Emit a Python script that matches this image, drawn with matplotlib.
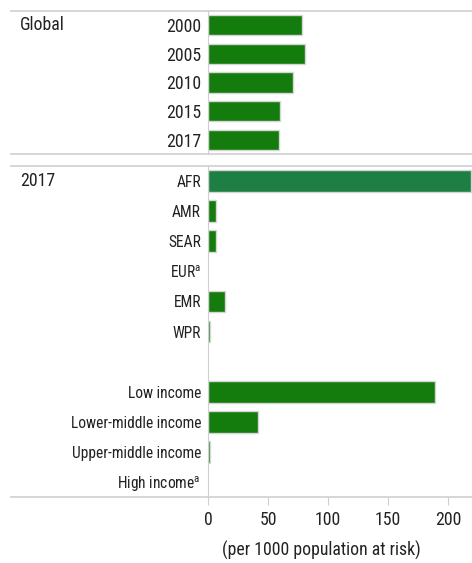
import numpy as np
import matplotlib
matplotlib.use('Agg')
import matplotlib.pyplot as plt
from matplotlib.lines import Line2D

plt.rcParams['font.family'] = ['Roboto Condensed', 'DejaVu Sans']
plt.rcParams['mathtext.fontset'] = 'custom'
plt.rcParams['mathtext.rm'] = 'Roboto Condensed'
plt.rcParams['mathtext.it'] = 'Roboto Condensed'

# Global malaria incidence (per 1000 population at risk)
global_years = ['2000', '2005', '2010', '2015', '2017']
global_incidence = [78, 81, 71, 60, 59]

# 2017 by WHO region
region_labels = ['AFR', 'AMR', 'SEAR', 'EUR$^{\\mathrm{a}}$', 'EMR', 'WPR']
region_incidence = [219, 7, 7, 0, 14, 1.5]

# 2017 by World Bank income group
income_labels = ['Low income', 'Lower-middle income', 'Upper-middle income', 'High income$^{\\mathrm{a}}$']
income_incidence = [189, 42, 1.5, 0]

x_ticks = [0, 50, 100, 150, 200]

green = '#137c0c'
afr_green = '#1e7f45'
edge = '#d6d6d6'
line_grey = '#cfcfcf'
text_col = '#222222'
big = 12.8
small = 11.2

W, H = 472, 563
fig = plt.figure(figsize=(W / 100, H / 100), dpi=100)


def px_axes(left, top, right, bottom):
    return fig.add_axes([left / W, 1 - bottom / H, (right - left) / W, (bottom - top) / H])


def style(ax):
    for s in ['top', 'right', 'bottom']:
        ax.spines[s].set_visible(False)
    ax.spines['left'].set_color(line_grey)
    ax.tick_params(axis='y', length=0, pad=5)
    ax.set_xlim(0, 220)


# top section: global trend
ax1 = px_axes(208, 11, 472, 154)
pos1 = np.arange(len(global_years))
ax1.barh(pos1, global_incidence, height=0.7, color=green, edgecolor=edge, linewidth=1)
ax1.set_yticks(pos1)
ax1.set_yticklabels(global_years, fontsize=big, color=text_col)
ax1.set_ylim(len(global_years) - 0.5, -0.5)
style(ax1)
ax1.set_xticks([])

# bottom section: regions and income groups for 2017
ax2 = px_axes(208, 166, 472, 497)
pos_reg = np.arange(len(region_labels))
pos_inc = np.arange(len(income_labels)) + len(region_labels) + 1
reg_colors = [afr_green] + [green] * (len(region_labels) - 1)
ax2.barh(pos_reg, region_incidence, height=0.72, color=reg_colors, edgecolor=edge, linewidth=1)
ax2.barh(pos_inc, income_incidence, height=0.72, color=green, edgecolor=edge, linewidth=1)
for b, v in zip(ax2.patches, region_incidence + income_incidence):
    if v == 0:
        b.set_visible(False)
ax2.set_yticks(list(pos_reg) + list(pos_inc))
ax2.set_yticklabels(region_labels + income_labels, fontsize=small, color=text_col)
ax2.set_ylim(pos_inc[-1] + 0.5, -0.5)
style(ax2)
ax2.set_xticks(x_ticks)
ax2.tick_params(axis='x', length=6, color=line_grey, pad=4, labelsize=big, labelcolor=text_col)

# section labels
fig.text(20 / W, 1 - 25 / H, 'Global', fontsize=big, va='center', ha='left', color=text_col)
fig.text(20 / W, 1 - 181 / H, '2017', fontsize=big, va='center', ha='left', color=text_col)

# separator lines
for y in [11, 154, 166, 497]:
    fig.add_artist(Line2D([11 / W, 1], [1 - y / H, 1 - y / H], color=line_grey, linewidth=1.2))

fig.text(321 / W, 1 - 550 / H, '(per 1000 population at risk)', fontsize=big,
         ha='center', va='center', color=text_col)

fig.savefig('out.png', dpi=100)
